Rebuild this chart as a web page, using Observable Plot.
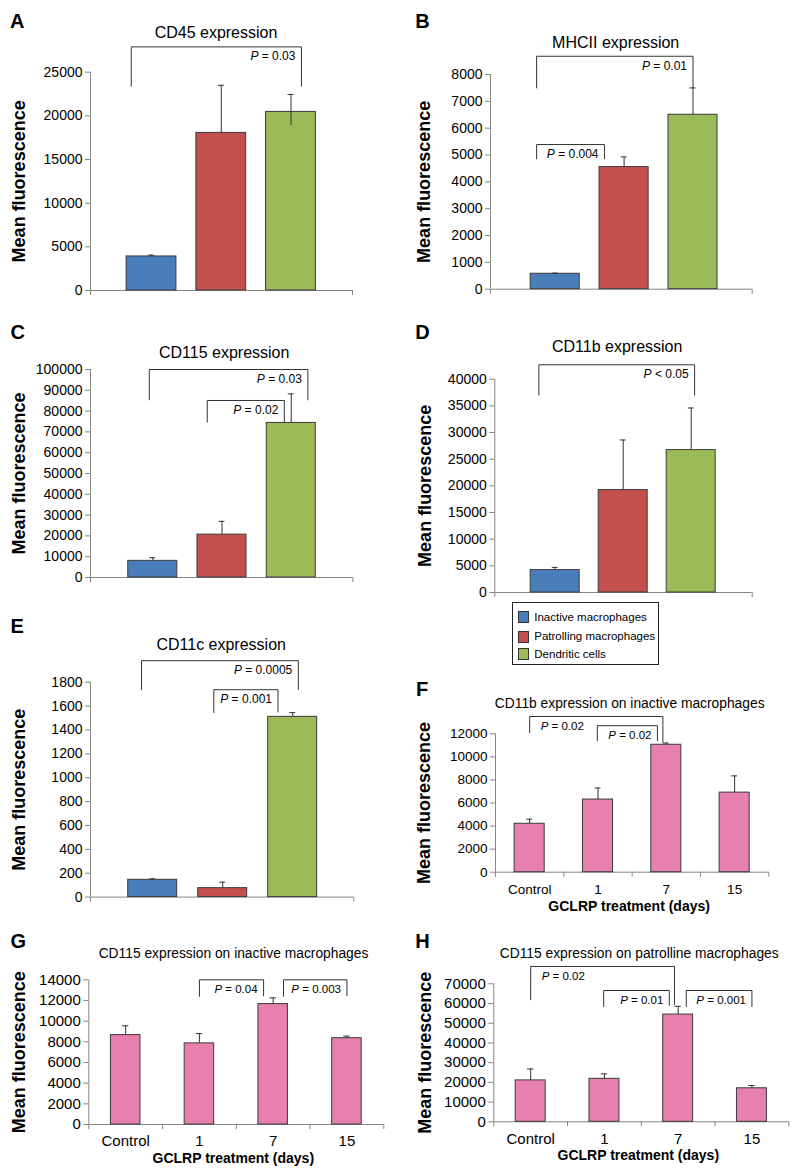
<!DOCTYPE html>
<html><head><meta charset="utf-8">
<script src="https://cdn.jsdelivr.net/npm/d3@7"></script>
<script src="https://cdn.jsdelivr.net/npm/@observablehq/plot@0.6"></script>
<style>
body{margin:0;background:#fff;font-family:"Liberation Sans",Arial,sans-serif;}
#fig{position:relative;width:799px;height:1176px;overflow:hidden;background:#fff;}
.abs{position:absolute;line-height:1;white-space:nowrap;color:#000;}
.letter{font-weight:bold;font-size:20px;}
.title{text-align:center;width:400px;}
.panel{position:absolute;}
</style></head><body><div id="fig"></div>
<script>
// ---------- data ----------
const cellTypes = ["Inactive macrophages", "Patrolling macrophages", "Dendritic cells"];
const days = ["Control", "1", "7", "15"];

const cd45Mean = [3900, 18050, 20450];
const cd45Err = [150, 5450, 2000];
const cd45ErrDown = [0, 0, 1550];
const cd45Brackets = [
  {from: -0.29, to: 2.15, top: 27900, legFrom: 23400, legTo: 23400, label: "P = 0.03", align: "end"}
];

const mhciiMean = [575, 4550, 6500];
const mhciiErr = [25, 380, 1000];
const mhciiBrackets = [
  {from: -0.27, to: 2.0, top: 8680, legFrom: 7500, legTo: 7500, label: "P = 0.01", align: "end"},
  {from: -0.27, to: 0.716, top: 5390, legFrom: 4860, legTo: 4860, label: "P = 0.004", align: "end"}
];

const cd115Mean = [8000, 20600, 74300];
const cd115Err = [1500, 6400, 14000];
const cd115Brackets = [
  {from: -0.05, to: 2.24, top: 100000, legFrom: 85400, legTo: 85400, label: "P = 0.03", align: "end"},
  {from: 0.787, to: 1.90, top: 85100, legFrom: 74700, legTo: 74700, label: "P = 0.02", align: "end"}
];

const cd11bMean = [4200, 19200, 26700];
const cd11bErr = [500, 9400, 7900];
const cd11bBrackets = [
  {from: -0.24, to: 2.05, top: 42700, legFrom: 37000, legTo: 37000, label: "P < 0.05", align: "end"}
];

const cd11cMean = [145, 75, 1510];
const cd11cErr = [8, 50, 35];
const cd11cBrackets = [
  {from: -0.16, to: 2.08, top: 1980, legFrom: 1740, legTo: 1740, label: "P = 0.0005", align: "end"},
  {from: 0.873, to: 1.79, top: 1737, legFrom: 1545, legTo: 1550, label: "P = 0.001", align: "end"}
];

const cd11bInactiveMean = [4200, 6300, 11050, 6900];
const cd11bInactiveErr = [400, 1000, 150, 1450];
const cd11bInactiveBrackets = [
  {from: 0, to: 1.95, top: 13500, legFrom: 12100, legTo: 11250, label: "P = 0.02", align: "start"},
  {from: 0.99, to: 1.87, top: 12700, legFrom: 11400, legTo: 11400, label: "P = 0.02", align: "end"}
];

const cd115InactiveMean = [8650, 7850, 11650, 8350];
const cd115InactiveErr = [900, 950, 600, 200];
const cd115InactiveBrackets = [
  {from: 1.0, to: 1.87, top: 14000, legFrom: 12400, legTo: 12450, label: "P = 0.04", align: "end"},
  {from: 2.14, to: 3.0, top: 14000, legFrom: 12400, legTo: 12450, label: "P = 0.003", align: "end"}
];

const cd115PatrolMean = [21000, 21800, 54400, 17000];
const cd115PatrolErr = [5800, 2500, 4200, 1400];
const cd115PatrolBrackets = [
  {from: 0, to: 1.95, top: 78800, legFrom: 61900, legTo: 59500, label: "P = 0.02", align: "start"},
  {from: 0.99, to: 1.88, top: 66600, legFrom: 58500, legTo: 59000, label: "P = 0.01", align: "end"},
  {from: 2.11, to: 3.0, top: 66600, legFrom: 58500, legTo: 58500, label: "P = 0.001", align: "end"}
];

// ---------- styles ----------
const cellColors = ["#4A7EBB", "#C4504D", "#9BBB59"];
const pink = "#E77FAF";
const axisColor = "#868686";
const barStroke = "#3a3a3a";
const lineColor = "#333333";
const FONT = "Liberation Sans, Arial, sans-serif";

const fig = d3.select("#fig");

function panel(cfg) {
  const rows = cfg.mean.map((v, i) => ({i, v, e: cfg.err[i], d: cfg.errDown ? cfg.errDown[i] : 0, c: cfg.colors[i]}));
  const bpts = cfg.brackets.flatMap((b, k) => [
    {k, x: b.from, y: b.legFrom}, {k, x: b.from, y: b.top},
    {k, x: b.to, y: b.top}, {k, x: b.to, y: b.legTo}
  ]);
  const cap = 0.043;
  const marks = [
    Plot.ruleY([0], {stroke: axisColor}),
    Plot.ruleX([cfg.xDomain[0]], {y1: 0, y2: cfg.yMax, stroke: axisColor}),
    Plot.axisY({ticks: d3.range(0, cfg.yMax + cfg.yStep / 2, cfg.yStep), tickSize: 5, tickPadding: 3,
      tickFormat: d3.format("d"), label: null, fontSize: cfg.tickFont, stroke: axisColor, fill: "#000"}),
    Plot.axisX({ticks: cfg.xTicks, tickSize: 5, tickFormat: () => "", label: null, stroke: axisColor}),
    Plot.rectY(rows, {x1: d => d.i - cfg.half, x2: d => d.i + cfg.half, y1: 0, y2: "v", fill: "c", stroke: barStroke, strokeWidth: 1}),
    Plot.ruleX(rows, {x: "i", y1: d => d.v - d.d, y2: d => d.v + d.e, stroke: lineColor}),
    Plot.ruleY(rows, {y: d => d.v + d.e, x1: d => d.i - cap, x2: d => d.i + cap, stroke: lineColor}),
    Plot.line(bpts, {x: "x", y: "y", z: "k", stroke: lineColor, strokeWidth: 1}),
    Plot.text(cfg.brackets.filter(b => b.align === "end"), {x: "to", y: "top", text: "label", textAnchor: "end",
      lineAnchor: "middle", dx: -6, dy: 9.5, fontSize: cfg.pFont}),
    Plot.text(cfg.brackets.filter(b => b.align === "start"), {x: "from", y: "top", text: "label", textAnchor: "start",
      lineAnchor: "middle", dx: 11, dy: 9.5, fontSize: cfg.pFont}),
    Plot.text(["Mean fluorescence"], {frameAnchor: "left", rotate: -90, dx: cfg.ylabelDx, textAnchor: "middle",
      lineAnchor: "middle", fontWeight: "bold", fontSize: 18})
  ];
  if (cfg.xLabels) {
    marks.push(Plot.text(cfg.xLabels, {x: (d, i) => i, frameAnchor: "bottom", dy: 17, lineAnchor: "middle",
      textAnchor: "middle", fontSize: cfg.tickFont}));
    marks.push(Plot.text(["GCLRP treatment (days)"], {frameAnchor: "bottom", dx: -3, dy: 34, lineAnchor: "middle",
      textAnchor: "middle", fontWeight: "bold", fontSize: 14}));
  }
  const svg = Plot.plot({
    width: cfg.width, height: cfg.height,
    marginLeft: cfg.axisL - cfg.left,
    marginRight: cfg.left + cfg.width - cfg.axisR,
    marginTop: cfg.yTopPx - cfg.top,
    marginBottom: cfg.top + cfg.height - cfg.yZeroPx,
    x: {type: "linear", domain: cfg.xDomain, label: null},
    y: {type: "linear", domain: [0, cfg.yMax], label: null},
    color: {type: "identity"},
    style: {fontFamily: FONT, fontSize: "12px", background: "transparent", overflow: "visible", color: "#000"},
    marks
  });
  // italic "P" in P-value labels
  d3.select(svg).selectAll("text").each(function () {
    const t = this.textContent;
    if (/^P [=<]/.test(t) && this.children.length === 0) {
      const el = d3.select(this);
      el.text(null);
      el.append("tspan").attr("font-style", "italic").text("P");
      el.append("tspan").text(t.slice(1));
    }
  });
  const holder = fig.append("div").attr("class", "panel")
    .style("left", cfg.left + "px").style("top", cfg.top + "px")
    .style("width", cfg.width + "px").style("height", cfg.height + "px");
  holder.node().appendChild(svg);

  // letter & title
  fig.append("div").attr("class", "abs letter")
    .style("left", cfg.letterX + "px").style("top", (cfg.letterCapTop - 0.13 * 20) + "px").text(cfg.letter);
  fig.append("div").attr("class", "abs title")
    .style("left", (cfg.titleX - 200) + "px").style("top", (cfg.titleBase - 0.8465 * cfg.titleFont) + "px")
    .style("font-size", cfg.titleFont + "px").text(cfg.title);
}

const bandTicks4 = [-0.5, 0.5, 1.5, 2.5, 3.5];

panel({letter: "A", title: "CD45 expression", mean: cd45Mean, err: cd45Err, errDown: cd45ErrDown, brackets: cd45Brackets,
  colors: cellColors, left: 0, top: 0, width: 400, height: 300, axisL: 90, axisR: 352, yTopPx: 71.7, yZeroPx: 290,
  xDomain: [-0.875, 2.882], xTicks: [-0.875, 2.882], yMax: 25000, yStep: 5000, half: 0.357, tickFont: 14, pFont: 12,
  ylabelDx: -71.7, letterX: 10, letterCapTop: 13.3, titleX: 216, titleBase: 38.3, titleFont: 16});

panel({letter: "B", title: "MHCII expression", mean: mhciiMean, err: mhciiErr, brackets: mhciiBrackets,
  colors: cellColors, left: 400, top: 0, width: 399, height: 300, axisL: 490, axisR: 751.7, yTopPx: 74, yZeroPx: 288.7,
  xDomain: [-0.939, 2.859], xTicks: [-0.939, 2.859], yMax: 8000, yStep: 1000, half: 0.356, tickFont: 14, pFont: 12,
  ylabelDx: -65.8, letterX: 415.3, letterCapTop: 13.3, titleX: 615.7, titleBase: 48.3, titleFont: 16});

panel({letter: "C", title: "CD115 expression", mean: cd115Mean, err: cd115Err, brackets: cd115Brackets,
  colors: cellColors, left: 0, top: 300, width: 400, height: 290, axisL: 90, axisR: 352.3, yTopPx: 369, yZeroPx: 577,
  xDomain: [-0.899, 2.889], xTicks: [-0.899, 2.889], yMax: 100000, yStep: 10000, half: 0.354, tickFont: 14, pFont: 12,
  ylabelDx: -71.7, letterX: 10.5, letterCapTop: 325, titleX: 224.2, titleBase: 358.3, titleFont: 16});

panel({letter: "D", title: "CD11b expression", mean: cd11bMean, err: cd11bErr, brackets: cd11bBrackets,
  colors: cellColors, left: 400, top: 300, width: 399, height: 300, axisL: 494.3, axisR: 751.7, yTopPx: 378.7, yZeroPx: 592,
  xDomain: [-0.888, 2.897], xTicks: [-0.888, 2.897], yMax: 40000, yStep: 5000, half: 0.36, tickFont: 14, pFont: 12,
  ylabelDx: -70, letterX: 415.3, letterCapTop: 325, titleX: 617.2, titleBase: 352.3, titleFont: 16});

panel({letter: "E", title: "CD11c expression", mean: cd11cMean, err: cd11cErr, brackets: cd11cBrackets,
  colors: cellColors, left: 0, top: 590, width: 400, height: 320, axisL: 90, axisR: 353.3, yTopPx: 681.7, yZeroPx: 896.6,
  xDomain: [-0.889, 2.873], xTicks: [-0.889, 2.873], yMax: 1800, yStep: 200, half: 0.35, tickFont: 14, pFont: 12,
  ylabelDx: -71.7, letterX: 10.5, letterCapTop: 618.3, titleX: 221.2, titleBase: 651, titleFont: 16});

panel({letter: "F", title: "CD11b expression on inactive macrophages", mean: cd11bInactiveMean, err: cd11bInactiveErr,
  brackets: cd11bInactiveBrackets, colors: days.map(() => pink), xLabels: days,
  left: 400, top: 680, width: 399, height: 240, axisL: 495, axisR: 768.3, yTopPx: 733.3, yZeroPx: 871.7,
  xDomain: [-0.5, 3.5], xTicks: bandTicks4, yMax: 12000, yStep: 2000, half: 0.22, tickFont: 13.5, pFont: 11.5,
  ylabelDx: -70.8, letterX: 416, letterCapTop: 681.7, titleX: 629.7, titleBase: 709, titleFont: 13.8});

panel({letter: "G", title: "CD115 expression on inactive macrophages", mean: cd115InactiveMean, err: cd115InactiveErr,
  brackets: cd115InactiveBrackets, colors: days.map(() => pink), xLabels: days,
  left: 0, top: 930, width: 400, height: 246, axisL: 88.3, axisR: 383.3, yTopPx: 979.3, yZeroPx: 1124,
  xDomain: [-0.5, 3.5], xTicks: bandTicks4, yMax: 14000, yStep: 2000, half: 0.2, tickFont: 15, pFont: 11.5,
  ylabelDx: -70, letterX: 10.5, letterCapTop: 933.3, titleX: 233.5, titleBase: 959, titleFont: 13.8});

panel({letter: "H", title: "CD115 expression on patrolline macrophages", mean: cd115PatrolMean, err: cd115PatrolErr,
  brackets: cd115PatrolBrackets, colors: days.map(() => pink), xLabels: days,
  left: 400, top: 930, width: 399, height: 246, axisL: 493.3, axisR: 788.3, yTopPx: 983.3, yZeroPx: 1121.3,
  xDomain: [-0.5, 3.5], xTicks: bandTicks4, yMax: 70000, yStep: 10000, half: 0.203, tickFont: 15, pFont: 11.5,
  ylabelDx: -69, letterX: 415.3, letterCapTop: 933.3, titleX: 639.2, titleBase: 959, titleFont: 13.8});

// ---------- legend ----------
const legend = fig.append("div").attr("class", "abs")
  .style("left", "511.7px").style("top", "602.3px").style("width", "147px").style("height", "62.7px")
  .style("box-sizing", "border-box").style("border", "1px solid #222").style("background", "#fff");
const itemCenters = [15, 34.4, 52];
cellTypes.forEach((name, i) => {
  legend.append("div").attr("class", "abs")
    .style("left", "5.6px").style("top", (itemCenters[i] - 7) + "px")
    .style("width", "11px").style("height", "12px").style("box-sizing", "border-box")
    .style("background", cellColors[i]).style("border", "1px solid #333");
  legend.append("div").attr("class", "abs")
    .style("left", "21.6px").style("top", (itemCenters[i] - 6.6) + "px")
    .style("font-size", "11.5px").text(name);
});
</script></body></html>
